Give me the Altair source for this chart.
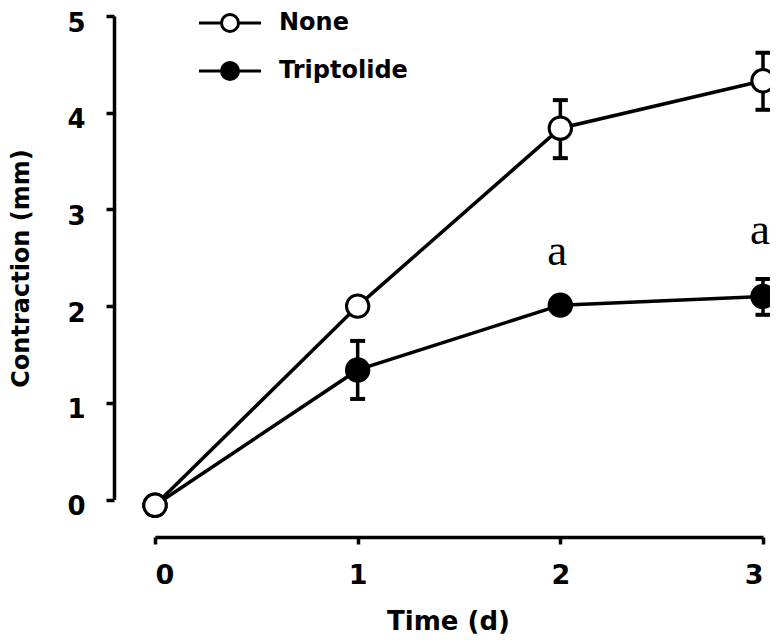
import altair as alt
import pandas as pd

days = [0, 1, 2, 3]
none_mean = [-0.06, 2.00, 3.84, 4.33]
trip_mean = [-0.06, 1.34, 2.01, 2.10]

# error bars (only where visible)
err_series = ["None", "None", "Triptolide", "Triptolide"]
err_day = [2, 3, 1, 3]
err_lo = [3.53, 4.03, 1.04, 1.91]
err_hi = [4.13, 4.62, 1.64, 2.28]

ann_day = [2, 3]
ann_y = [2.43, 2.64]
ann_text = ["a", "a"]

series_names = ["None", "Triptolide"]

# Triptolide rows first so the open "None" circle is drawn on top at day 0
df = pd.DataFrame({
    "Time": days * 2,
    "Contraction": trip_mean + none_mean,
    "Series": ["Triptolide"] * 4 + ["None"] * 4,
})
err_df = pd.DataFrame({"Series": err_series, "Time": err_day, "lo": err_lo, "hi": err_hi})
ann_df = pd.DataFrame({"Time": ann_day, "y": ann_y, "label": ann_text})

FONT = "DejaVu Sans"

xscale = alt.Scale(domain=[0, 3], range=[41, 649], nice=False, zero=False)
yscale = alt.Scale(domain=[0, 5], range=[483.5, 0], nice=False, zero=False)

xaxis = alt.Axis(
    values=[0, 1, 2, 3], format="d", title="Time (d)",
    domainWidth=3.5, domainColor="black", tickColor="black", tickWidth=3.5, tickSize=7,
    labelFont=FONT, labelFontSize=27, labelFontWeight="bold", labelColor="black",
    labelPadding=18, labelBaseline="top",
    titleFont=FONT, titleFontSize=26, titleFontWeight="bold", titleColor="black",
    titleX=334, titleY=92, titleBaseline="alphabetic", titleAlign="center",
    grid=False,
)
yaxis = alt.Axis(
    values=[0, 1, 2, 3, 4, 5], format="d", title="Contraction (mm)",
    domainWidth=3.5, domainColor="black", tickColor="black", tickWidth=3.5, tickSize=8,
    labelFont=FONT, labelFontSize=26, labelFontWeight="bold", labelColor="black",
    labelPadding=21, labelOffset=7,
    titleFont=FONT, titleFontSize=24, titleFontWeight="bold", titleColor="black",
    titleX=-93, titleY=252, titleBaseline="middle", titleAlign="center", titleAngle=-90,
    grid=False,
)

x = alt.X("Time:Q", scale=xscale, axis=xaxis)
y = alt.Y("Contraction:Q", scale=yscale, axis=yaxis)

lines = alt.Chart(df).mark_line(color="black", strokeWidth=3.5).encode(
    x=x, y=y, detail="Series:N"
)

bars = alt.Chart(err_df).mark_rule(color="black", strokeWidth=3.5, opacity=1).encode(
    x=alt.X("Time:Q", scale=xscale),
    y=alt.Y("lo:Q", scale=yscale),
    y2="hi:Q",
)
caps_lo = alt.Chart(err_df).mark_tick(
    color="black", orient="horizontal", size=15, thickness=4, opacity=1
).encode(
    x=alt.X("Time:Q", scale=xscale),
    y=alt.Y("lo:Q", scale=yscale),
)
caps_hi = alt.Chart(err_df).mark_tick(
    color="black", orient="horizontal", size=15, thickness=4, opacity=1
).encode(
    x=alt.X("Time:Q", scale=xscale),
    y=alt.Y("hi:Q", scale=yscale),
)

legend_path = "M-3.1,0H-0.85M0.85,0H3.1M-0.85,0A0.85,0.85,0,1,1,0.85,0A0.85,0.85,0,1,1,-0.85,0Z"

points = alt.Chart(df).mark_point(
    shape="circle", size=500, stroke="black", strokeWidth=3, opacity=1, fillOpacity=1
).encode(
    x=x, y=y,
    fill=alt.Fill(
        "Series:N",
        scale=alt.Scale(domain=series_names, range=["white", "black"]),
        legend=alt.Legend(
            title=None, orient="none", legendX=104, legendY=-5,
            symbolType=legend_path, symbolSize=400, symbolOpacity=1,
            symbolStrokeColor="black", symbolStrokeWidth=3,
            labelFont=FONT, labelFontSize=24, labelFontWeight="bold", labelColor="black",
            labelOffset=37, rowPadding=18, padding=0, labelBaseline="middle",
        ),
    ),
)

ann = alt.Chart(ann_df).mark_text(
    font="Liberation Serif", fontSize=45, color="black", baseline="alphabetic", dx=-3
).encode(
    x=alt.X("Time:Q", scale=xscale),
    y=alt.Y("y:Q", scale=yscale),
    text="label:N",
)

chart = alt.layer(lines, bars, caps_lo, caps_hi, points, ann).properties(
    width=650, height=521,
    autosize=alt.AutoSizeParams(type="none"),
    padding={"left": 106, "top": 8, "right": 6, "bottom": 99},
    background="white",
).configure_view(stroke=None)

chart.save("out.html", embed_options={"renderer": "svg", "actions": False})
